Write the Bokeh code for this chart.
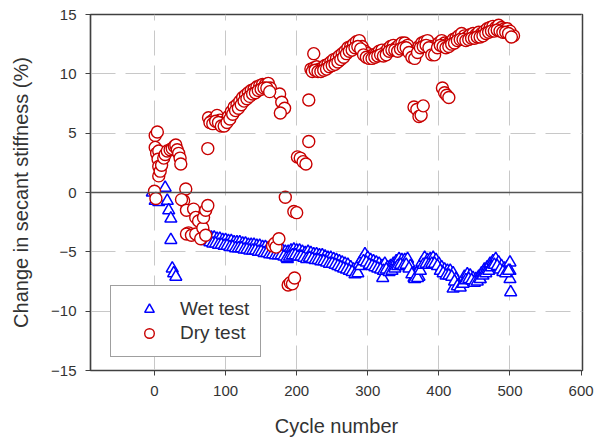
from bokeh.plotting import figure
from bokeh.models import Range1d, FixedTicker, Span, Legend, LegendItem
from bokeh.embed import file_html
from bokeh.resources import INLINE

# ---------------- data ----------------
x_ticks = [0, 100, 200, 300, 400, 500, 600]
y_ticks = [-15, -10, -5, 0, 5, 10, 15]

wet_cycle = [-3, 1, 6, 15, 18, 20, 23, 23, 25, 27, 30,
             72, 76, 80, 84, 88, 92, 96, 100, 104, 108, 112, 116, 120, 124, 128,
             132, 136, 140, 144, 148, 152, 156, 160, 164, 168, 172, 176, 180, 184,
             188, 192, 196, 200, 204, 208, 212, 216, 220, 224, 228, 232, 236, 240,
             244, 248, 252, 256, 260, 264, 268, 272, 276, 280, 284, 288, 292, 296,
             300, 304, 308, 312, 316, 320, 324, 328, 332, 336, 340, 344, 348, 352,
             356, 360, 364, 368, 372, 376, 380, 384, 388, 392, 396, 400, 404, 408,
             412, 416, 420, 424, 428, 432, 436, 440, 444, 448, 452, 456, 460, 464,
             468, 472, 476, 480, 484, 488, 492, 496, 500,
             500, 500, 501, 187, 321, 365, 372, 420, 458]
wet_change = [0.0, -0.7, -0.8, 0.4, -0.7, -1.5, -2.2, -4.0, -6.4, -6.8, -7.1,
              -3.6, -3.7, -3.8, -3.8, -3.9, -3.9, -4.0, -4.0, -4.1, -4.1, -4.2, -4.2, -4.2, -4.3, -4.3,
              -4.4, -4.4, -4.4, -4.5, -4.5, -4.6, -4.6, -4.7, -4.7, -4.8, -4.8, -4.8, -4.9, -5.0,
              -5.0, -4.9, -4.8, -4.9, -4.9, -5.0, -5.1, -5.0, -5.1, -5.2, -5.2, -5.3, -5.3, -5.4,
              -5.5, -5.5, -5.6, -5.7, -5.8, -5.9, -6.0, -6.1, -6.3, -6.5, -6.6, -6.0, -5.6, -5.2,
              -5.5, -5.7, -5.8, -5.9, -6.0, -6.2, -6.0, -6.3, -6.2, -6.0, -5.8, -5.6, -5.7, -5.7,
              -5.6, -6.2, -6.8, -7.0, -6.5, -5.9, -5.5, -5.7, -5.6, -5.5, -5.7, -6.0, -6.3, -6.5,
              -6.6, -6.6, -6.8, -7.3, -7.8, -7.6, -7.1, -6.9, -7.0, -7.2, -7.3, -7.1, -6.8, -6.5,
              -6.3, -6.0, -5.8, -5.6, -5.9, -6.2, -6.4, -6.3, -5.9,
              -6.6, -7.3, -8.4, -5.6, -7.2, -7.2, -7.1, -8.1, -7.3]

# second (lower) set of wet-test readings between the ones above
wet_cycle_b = [74, 78, 82, 86, 90, 94, 98, 102, 106, 110, 114, 118, 122, 126, 130,
               134, 138, 142, 146, 150, 154, 158, 162, 166, 170, 174, 178, 182, 186,
               190, 194, 198, 202, 206, 210, 214, 218, 222, 226, 230, 234, 238, 242,
               246, 250, 254, 258, 262, 266, 270, 274, 278, 282, 286, 290, 294, 298,
               302, 306, 310, 314, 318, 322, 326, 330, 334, 338, 342, 346, 350, 354,
               358, 362, 366, 370, 374, 378, 382, 386, 390, 394, 398, 402, 406, 410,
               414, 418, 422, 426, 430, 434, 438, 442, 446, 450, 454, 458, 462, 466,
               470, 474, 478, 482, 486, 490, 494, 498]
wet_change_b = [-4.1, -4.2, -4.3, -4.3, -4.4, -4.4, -4.5, -4.5, -4.6, -4.6, -4.7, -4.7, -4.7, -4.8, -4.8,
                -4.9, -4.9, -4.9, -5.0, -5.0, -5.1, -5.1, -5.2, -5.2, -5.3, -5.3, -5.3, -5.4, -5.5,
                -5.4, -5.3, -5.3, -5.4, -5.4, -5.5, -5.6, -5.5, -5.6, -5.7, -5.7, -5.8, -5.8, -5.9,
                -6.0, -6.0, -6.1, -6.2, -6.3, -6.4, -6.5, -6.6, -6.7, -6.9, -6.8, -6.2, -5.8, -5.9,
                -6.1, -6.2, -6.3, -6.4, -6.5, -6.6, -6.5, -6.7, -6.6, -6.4, -6.2, -6.1, -6.2, -6.1,
                -6.4, -6.9, -7.3, -7.2, -6.6, -6.1, -6.0, -6.1, -6.0, -6.0, -6.2, -6.6, -6.8, -7.0,
                -7.0, -7.1, -7.5, -7.9, -8.0, -7.7, -7.4, -7.3, -7.4, -7.6, -7.5, -7.3, -7.0, -6.8,
                -6.6, -6.3, -6.1, -6.2, -6.5, -6.7, -6.8, -6.6]

dry_cycle = [0, 1, 4, 1, 3, 6, 5, 6, 6, 8, 10, 13, 15, 18, 22, 25, 28, 30, 32, 34, 36, 37,
             2, 44, 41, 38, 45, 55, 58, 62, 48, 45, 52, 58, 65, 68, 69, 72, 75, 72, 75,
             76, 80, 84, 88, 92, 96, 100, 104, 108, 112, 116, 120, 124, 128, 132, 136,
             140, 144, 148, 152, 156, 160, 163, 176, 179, 183, 177,
             166, 169, 171, 175, 184, 188, 191, 194, 197, 196, 200, 201, 205, 209, 213,
             217, 217, 224,
             220, 224, 228, 232, 236, 240, 244, 248, 252, 256, 260, 264, 268, 272, 276,
             280, 284, 288, 292, 296, 300, 304, 308, 312, 316, 320, 324, 328, 332, 336,
             340, 344, 348, 352, 356, 360, 364, 368, 372, 376, 380, 384, 388, 392, 396,
             400, 404, 408, 412, 416, 420, 424, 428, 432, 436, 440, 444, 448, 452, 456,
             460, 464, 468, 472, 476, 480, 484, 488, 492, 496, 500, 505,
             365, 369, 372, 375, 378, 405, 408, 411, 414]
dry_change = [0.1, 4.8, 5.1, 3.8, 3.3, 3.5, 2.8, 2.2, 1.4, 1.8, 2.3, 2.9, 3.2, 3.5, 3.6, 3.7, 3.9, 4.0, 3.6, 3.3, 2.9, 2.4,
              -0.5, 0.3, -0.7, -0.6, -1.5, -1.4, -2.1, -2.4, -3.4, -3.5, -3.6, -3.5, -3.9, -3.0, -2.1, -1.5, -1.1, -3.6, 3.7,
              6.3, 6.0, 6.2, 6.5, 6.1, 5.8, 6.0, 6.4, 6.8, 7.2, 7.4, 7.7, 8.0, 8.2, 8.4, 8.6,
              8.7, 8.9, 9.0, 9.1, 9.1, 9.2, 8.8, 8.3, 7.6, 7.1, 6.7,
              -4.5, -4.3, -4.6, -3.9, -0.4, -7.8, -7.6, -7.7, -7.2, -1.6, -1.7, 3.0, 2.9, 2.6, 2.4,
              7.8, 4.3, 11.7,
              10.4, 10.5, 10.6, 10.4, 10.5, 10.7, 10.8, 11.0, 11.2, 11.3, 11.5, 11.7, 11.9, 12.2, 12.3,
              12.5, 12.7, 12.8, 12.3, 11.9, 11.7, 11.5, 11.6, 11.7, 11.9, 12.0, 11.8, 12.1, 12.3, 12.4,
              12.2, 12.4, 12.6, 12.6, 12.4, 11.9, 11.5, 11.8, 12.3, 12.6, 12.7, 12.8, 12.3, 11.8, 12.1,
              12.6, 12.8, 12.6, 12.5, 12.6, 12.9, 13.0, 13.2, 13.4, 13.2, 13.1, 13.3, 13.4, 13.3, 13.5,
              13.4, 13.6, 13.8, 13.9, 14.0, 13.9, 14.1, 13.9, 13.8, 13.8, 13.6, 13.2,
              7.2, 7.0, 6.4, 6.5, 7.3, 8.8, 8.4, 8.2, 8.0]

# second (lower) set of dry-test readings between the ones above
dry_cycle_b = [78, 82, 86, 90, 94, 98, 102, 106, 110, 114, 118, 122, 126, 130, 134, 138,
               142, 146, 150, 154, 158, 162,
               222, 226, 230, 234, 238, 242, 246, 250, 254, 258, 262, 266, 270, 274, 278,
               282, 286, 290, 294, 298, 302, 306, 310, 314, 318, 322, 326, 330, 334, 338,
               342, 346, 350, 354, 358, 362, 366, 370, 374, 378, 382, 386, 390, 394, 398,
               402, 406, 410, 414, 418, 422, 426, 430, 434, 438, 442, 446, 450, 454, 458,
               462, 466, 470, 474, 478, 482, 486, 490, 494, 498, 502]
dry_change_b = [5.9, 5.8, 6.0, 5.9, 5.6, 5.6, 5.9, 6.2, 6.6, 6.9, 7.1, 7.4, 7.7, 7.9, 8.1, 8.3,
                8.4, 8.6, 8.7, 8.8, 8.8, 8.5,
                10.2, 10.3, 10.2, 10.2, 10.3, 10.4, 10.6, 10.7, 10.8, 11.0, 11.2, 11.4, 11.7, 11.9, 12.0,
                12.2, 12.3, 12.1, 11.6, 11.4, 11.3, 11.3, 11.4, 11.5, 11.6, 11.5, 11.6, 11.9, 12.0, 12.0,
                11.9, 12.1, 12.2, 12.2, 11.8, 11.4, 11.3, 11.8, 12.2, 12.3, 12.4, 12.2, 11.6, 11.6, 12.2,
                12.4, 12.3, 12.2, 12.3, 12.5, 12.6, 12.8, 12.9, 12.9, 12.8, 12.9, 13.0, 13.0, 13.1, 13.1,
                13.2, 13.4, 13.5, 13.6, 13.6, 13.7, 13.6, 13.5, 13.5, 13.4, 13.1]

# ---------------- figure ----------------
FONT = "Liberation Sans"
TXT = "#333333"
DARK = "#404040"

p = figure(width=606, height=441,
           x_range=Range1d(-90, 602), y_range=Range1d(-15, 15),
           output_backend="svg", toolbar_location=None,
           min_border_left=90, min_border_right=24,
           min_border_top=14, min_border_bottom=71)

p.background_fill_color = "white"
p.border_fill_color = "white"
p.outline_line_color = DARK
p.outline_line_width = 1.5

p.xaxis.ticker = FixedTicker(ticks=x_ticks)
p.yaxis.ticker = FixedTicker(ticks=y_ticks)
p.xgrid.ticker = FixedTicker(ticks=x_ticks)
p.ygrid.ticker = FixedTicker(ticks=y_ticks)

for g in (p.xgrid, p.ygrid):
    g.grid_line_color = "#c8c8c8"
    g.grid_line_dash = "25 10"
    g.grid_line_width = 1

for ax in (p.xaxis, p.yaxis):
    ax.axis_line_color = DARK
    ax.axis_line_width = 1.2
    ax.major_tick_line_color = DARK
    ax.major_tick_out = 5
    ax.major_tick_in = 0
    ax.minor_tick_line_color = None
    ax.major_label_text_font = FONT
    ax.major_label_text_font_size = "15px"
    ax.major_label_text_color = TXT
    ax.axis_label_text_font = FONT
    ax.axis_label_text_font_size = "20px"
    ax.axis_label_text_font_style = "normal"
    ax.axis_label_text_color = TXT

p.xaxis.axis_label = "Cycle number"
p.yaxis.axis_label = "Change in secant stiffness (%)"
p.xaxis.major_label_standoff = 10
p.yaxis.major_label_standoff = 9
p.xaxis.axis_label_standoff = 16
p.yaxis.axis_label_standoff = 16

p.add_layout(Span(location=0, dimension="width", line_color="#555555", line_width=1.5))

wet = p.scatter(wet_cycle + wet_cycle_b, wet_change + wet_change_b, marker="triangle", size=12,
                line_color="#0000ff", fill_color="white", line_width=1.5)
dry = p.scatter(dry_cycle + dry_cycle_b, dry_change + dry_change_b, marker="circle", size=12,
                line_color="#c80000", fill_color="white", line_width=1.4)

legend = Legend(items=[LegendItem(label="Wet test", renderers=[wet]),
                       LegendItem(label="Dry test", renderers=[dry])],
                location=(20, 13), margin=0, padding=11, spacing=0,
                glyph_height=24, glyph_width=54, label_height=20, label_standoff=4,
                label_text_font=FONT, label_text_font_size="19px", label_text_color=TXT,
                border_line_color=DARK, border_line_width=1.2,
                background_fill_color="white", background_fill_alpha=1)
p.add_layout(legend, "center")

open("out.html", "w").write(file_html(p, INLINE))
